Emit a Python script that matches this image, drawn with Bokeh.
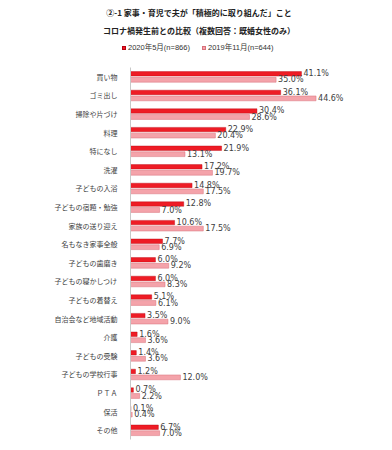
from bokeh.plotting import figure
from bokeh.models import ColumnDataSource, FactorRange, Range1d, Div
from bokeh.transform import dodge
from bokeh.core.properties import value
from bokeh.layouts import column
from bokeh.embed import file_html
from bokeh.resources import INLINE

categories = ["買い物", "ゴミ出し", "掃除や片づけ", "料理", "特になし", "洗濯", "子どもの入浴",
              "子どもの宿題・勉強", "家族の送り迎え", "名もなき家事全般", "子どもの歯磨き",
              "子どもの寝かしつけ", "子どもの着替え", "自治会など地域活動", "介護", "子どもの受験",
              "子どもの学校行事", "ＰＴＡ", "保活", "その他"]
may2020 = [41.1, 36.1, 30.4, 22.9, 21.9, 17.2, 14.8, 12.8, 10.6, 7.7, 6.0, 6.0, 5.1, 3.5, 1.6, 1.4, 1.2, 0.7, 0.1, 6.7]
nov2019 = [35.0, 44.6, 28.6, 20.4, 13.1, 19.7, 17.5, 7.0, 17.5, 6.9, 9.2, 8.3, 6.1, 9.0, 3.6, 3.6, 12.0, 2.2, 0.4, 7.0]
series_names = ["2020年5月(n=866)", "2019年11月(n=644)"]
title_lines = ["②-1 家事・育児で夫が「積極的に取り組んだ」こと", "コロナ禍発生前との比較（複数回答：既婚女性のみ）"]

RED = "#ee1c25"
RED_LINE = "#b80010"
PINK = "#f4a3aa"
PINK_LINE = "#d8717b"
CJK = "Noto Sans CJK JP"

src = ColumnDataSource(dict(
    cat=categories,
    a=may2020,
    b=nov2019,
    la=[f"{v:.1f}%" for v in may2020],
    lb=[f"{v:.1f}%" for v in nov2019],
))

W = 390
HEAD_H = 59
LEFT = 130
FRAME_H = 372
FRAME_W = W - LEFT - 4

# ---- header: title lines + legend (HTML) ----
parts = []
for line, top in zip(title_lines, [8, 26]):
    parts.append(
        f'<div style="position:absolute;left:49px;width:300px;top:{top}px;height:10px;'
        f'line-height:10px;text-align:center;white-space:nowrap;font-size:8px;'
        f'font-weight:bold;color:#222;font-family:\'{CJK}\';">{line}</div>')
for name, color, border, sq_left, tx_left in zip(series_names, [RED, PINK], [RED_LINE, PINK_LINE],
                                                 [122, 202], [128, 208]):
    parts.append(
        f'<div style="position:absolute;left:{sq_left}px;top:45.5px;width:4px;height:4px;'
        f'background:{color};border:0.5px solid {border};"></div>')
    parts.append(
        f'<div style="position:absolute;left:{tx_left}px;top:42.5px;height:10px;line-height:10px;'
        f'white-space:nowrap;font-size:7.5px;color:#333;'
        f'font-family:\'Liberation Sans\',\'{CJK}\';">{name}</div>')
html = (f'<div style="position:relative;width:{W}px;height:{HEAD_H}px;margin:0;padding:0;">'
        + "".join(parts) + "</div>")
header = Div(text=html, width=W, height=HEAD_H, margin=0)

# ---- main chart ----
p = figure(width=W, height=8 + FRAME_H + 3, y_range=FactorRange(factors=categories[::-1]),
           x_range=Range1d(0, FRAME_W / 4.16), toolbar_location=None, output_backend="svg",
           min_border_left=LEFT, min_border_right=4, min_border_top=8, min_border_bottom=3)
p.xaxis.visible = False
p.grid.visible = False
p.outline_line_color = None

p.hbar(y=dodge("cat", 0.16, range=p.y_range), right="a", left=0, height=0.24,
       fill_color=RED, line_color=RED_LINE, line_width=0.4, source=src)
p.hbar(y=dodge("cat", -0.16, range=p.y_range), right="b", left=0, height=0.26,
       fill_color=PINK, line_color=PINK_LINE, line_width=0.5, source=src)

p.text(x="a", y=dodge("cat", 0.17, range=p.y_range), text="la", x_offset=2,
       text_baseline="middle", text_font=value("DejaVu Sans"), text_font_size="8px",
       text_color="#404040", source=src)
p.text(x="b", y=dodge("cat", -0.17, range=p.y_range), text="lb", x_offset=2,
       text_baseline="middle", text_font=value("DejaVu Sans"), text_font_size="8px",
       text_color="#404040", source=src)

ax = p.yaxis[0]
ax.major_tick_line_color = None
ax.minor_tick_line_color = None
ax.axis_line_color = "#c8c8c8"
ax.major_label_text_font = CJK
ax.major_label_text_font_size = "7px"
ax.major_label_text_color = "#404040"
ax.major_label_standoff = 7

layout = column(header, p, spacing=0)
open("out.html", "w").write(file_html(layout, INLINE))
